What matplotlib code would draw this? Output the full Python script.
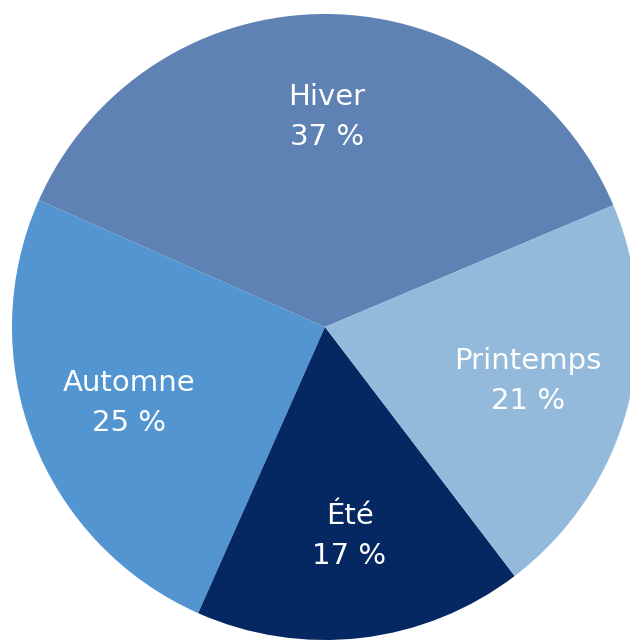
import numpy as np
import matplotlib.pyplot as plt

# données (sens trigonométrique à partir de l'hiver)
saisons = ['Hiver', 'Automne', 'Été', 'Printemps']
parts = [37, 25, 17, 21]
couleurs = ['#5e82b4', '#5395d0', '#052762', '#94badb']

plt.rcParams['font.family'] = ['DejaVu Sans']

fig = plt.figure(figsize=(6.3, 6.4), dpi=100)
ax = fig.add_axes([0, 0, 1, 1])

wedges, _ = ax.pie(parts, colors=couleurs, startangle=22.9, counterclock=True,
                   radius=1, wedgeprops=dict(linewidth=0))

for w, nom, p in zip(wedges, saisons, parts):
    ang = np.deg2rad((w.theta1 + w.theta2) / 2)
    r = 0.672
    ax.text(r * np.cos(ang), r * np.sin(ang), f'{nom}\n{p} %',
            ha='center', va='center', color='white', fontsize=21,
            linespacing=1.55)

# cadrage : centre à (325, 327) px, rayon 313 px
s = 313
ax.set_aspect('auto')
ax.set_xlim(-325 / s, 305 / s)
ax.set_ylim(-313 / s, 327 / s)
ax.axis('off')

fig.savefig('out.png', dpi=100)
